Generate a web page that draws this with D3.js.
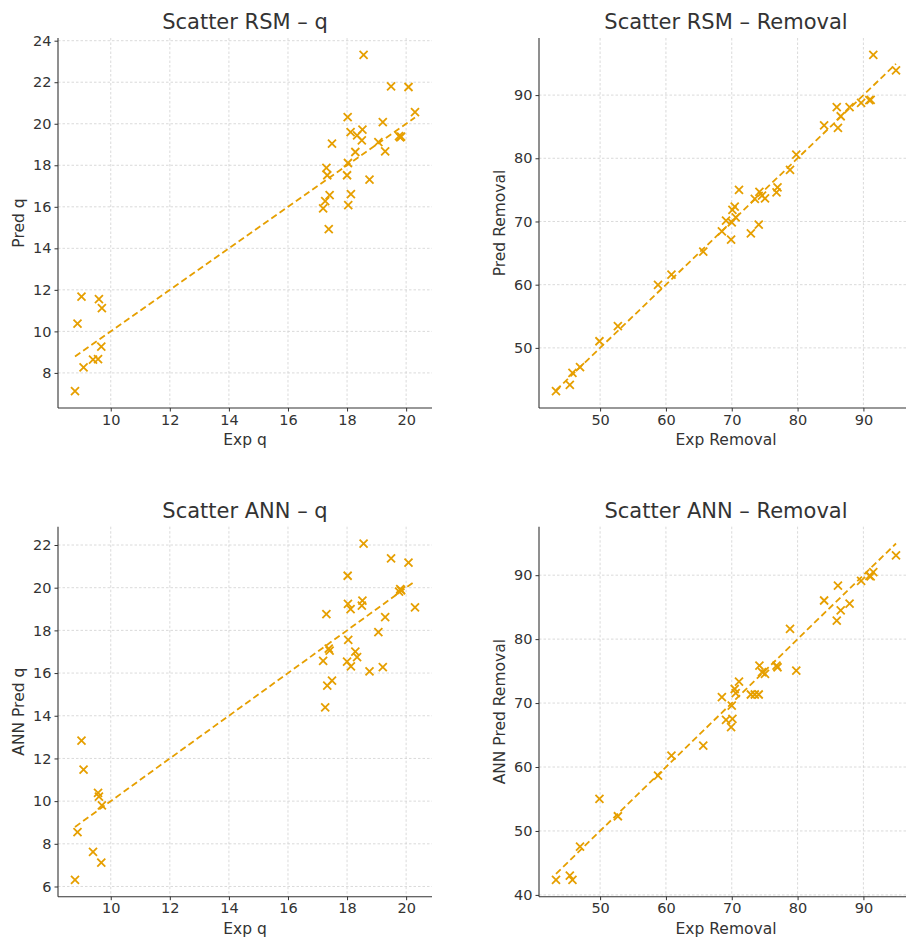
<!DOCTYPE html>
<html>
<head>
<meta charset="utf-8">
<script src="https://cdn.jsdelivr.net/npm/d3@7"></script>
<style>
  body { margin: 0; background: #fff; }
  svg { display: block; font-family: "DejaVu Sans", sans-serif; }
</style>
</head>
<body>
<svg id="chart" width="906" height="937"></svg>
<script>
const expQ = [8.79, 8.875, 9.01, 9.08, 9.40, 9.57, 9.60, 9.70, 9.68,
  17.19, 17.26, 17.30, 17.33, 17.38, 17.41, 17.49,
  18.00, 18.02, 18.03, 18.04, 18.12, 18.13, 18.28, 18.34, 18.50, 18.52, 18.56, 18.76,
  19.06, 19.21, 19.29, 19.49, 19.76, 19.80, 19.83, 20.08, 20.30]
const rsmQ = [7.12, 10.37, 11.67, 8.27, 8.64, 8.66, 11.55, 11.12, 9.27,
  15.92, 16.27, 17.87, 17.52, 14.92, 16.56, 19.04,
  17.52, 20.32, 18.11, 16.08, 19.60, 16.61, 18.64, 19.44, 19.20, 19.72, 23.32, 17.31,
  19.12, 20.08, 18.67, 21.80, 19.40, 19.35, 19.38, 21.77, 20.56]
const annQ = [6.31, 8.55, 12.84, 11.48, 7.62, 10.39, 10.21, 9.80, 7.12,
  16.57, 14.39, 18.76, 15.41, 17.15, 17.05, 15.65,
  16.54, 20.56, 19.24, 17.56, 19.00, 16.31, 17.01, 16.75, 19.16, 19.39, 22.07, 16.08,
  17.92, 16.28, 18.62, 21.37, 19.82, 19.93, 19.88, 21.17, 19.08]

const expRem = [43.3, 45.4, 45.8, 46.95, 49.9, 52.7, 58.8, 60.84, 65.67,
  68.5, 69.13, 69.9, 70.0, 70.1, 70.45, 70.6, 71.1, 72.9, 73.5, 74.1, 74.2, 74.6, 75.05,
  76.8, 76.95, 78.85, 79.8, 84.03, 85.95, 86.13, 86.55, 87.9, 89.65, 90.9, 91.1, 91.5, 94.95]
const rsmRem = [43.15, 44.15, 46.05, 46.94, 51.05, 53.43, 59.96, 61.59, 65.23,
  68.44, 70.13, 67.13, 69.87, 71.82, 72.35, 70.66, 75.0, 68.13, 73.56, 69.5, 74.7, 74.08, 73.65,
  74.6, 75.4, 78.17, 80.57, 85.2, 88.1, 84.8, 86.65, 88.1, 88.75, 89.2, 89.25, 96.37, 93.9]
const annRem = [42.35, 43.02, 42.35, 47.56, 55.02, 52.30, 58.67, 61.79, 63.36,
  70.92, 67.37, 66.23, 69.61, 67.53, 72.2, 71.54, 73.37, 71.34, 71.34, 71.34, 75.87, 74.83, 74.57,
  75.87, 75.6, 81.6, 75.09, 86.04, 82.9, 88.38, 84.5, 85.55, 89.1, 89.9, 89.8, 90.47, 93.08]

const qTicksX = [10, 12, 14, 16, 18, 20]
const rsmQTicksY = [8, 10, 12, 14, 16, 18, 20, 22, 24]
const annQTicksY = [6, 8, 10, 12, 14, 16, 18, 20, 22]
const remTicksX = [50, 60, 70, 80, 90]
const rsmRemTicksY = [50, 60, 70, 80, 90]
const annRemTicksY = [40, 50, 60, 70, 80, 90]

const orange = "#E69F00"
const ink = "#333"

const panels = [
  { title: "Scatter RSM \u2013 q", xl: "Exp q", yl: "Pred q", x: expQ, y: rsmQ, tx: qTicksX, ty: rsmQTicksY, left: 58, top: 38 },
  { title: "Scatter RSM \u2013 Removal", xl: "Exp Removal", yl: "Pred Removal", x: expRem, y: rsmRem, tx: remTicksX, ty: rsmRemTicksY, left: 539, top: 38 },
  { title: "Scatter ANN \u2013 q", xl: "Exp q", yl: "ANN Pred q", x: expQ, y: annQ, tx: qTicksX, ty: annQTicksY, left: 58, top: 526.7 },
  { title: "Scatter ANN \u2013 Removal", xl: "Exp Removal", yl: "ANN Pred Removal", x: expRem, y: annRem, tx: remTicksX, ty: annRemTicksY, left: 539, top: 526.7 }
]
const W = 374, H = 370

const svg = d3.select("#chart")

// matplotlib style 5% padding
function padded(ext) {
  const p = (ext[1] - ext[0]) * 0.05
  return [ext[0] - p, ext[1] + p]
}

panels.forEach(p => {
  const lo = d3.min(p.x), hi = d3.max(p.x)
  const x = d3.scaleLinear().domain(padded([lo, hi])).range([0, W])
  const y = d3.scaleLinear().domain(padded([Math.min(lo, d3.min(p.y)), Math.max(hi, d3.max(p.y))])).range([H, 0])

  const g = svg.append("g").attr("transform", `translate(${p.left},${p.top})`)

  // grid
  g.append("g").selectAll("line").data(p.tx).join("line")
    .attr("x1", d => x(d)).attr("x2", d => x(d)).attr("y1", 0).attr("y2", H)
    .attr("stroke", "#d0d0d0").attr("stroke-width", 0.8).attr("stroke-dasharray", "2.5,2")
  g.append("g").selectAll("line").data(p.ty).join("line")
    .attr("x1", 0).attr("x2", W).attr("y1", d => y(d)).attr("y2", d => y(d))
    .attr("stroke", "#d0d0d0").attr("stroke-width", 0.8).attr("stroke-dasharray", "2.5,2")

  // axes
  const xa = g.append("g").attr("transform", `translate(0,${H})`)
    .call(d3.axisBottom(x).tickValues(p.tx).tickSize(3.5).tickPadding(3).tickFormat(d3.format("d")))
  const ya = g.append("g")
    .call(d3.axisLeft(y).tickValues(p.ty).tickSize(3.5).tickPadding(3).tickFormat(d3.format("d")))
  ;[xa, ya].forEach(a => {
    a.select(".domain").attr("stroke", ink).attr("stroke-width", 1.1)
    a.selectAll(".tick line").attr("stroke", ink)
    a.selectAll(".tick text").attr("fill", ink).attr("font-size", 14.5).attr("font-family", "DejaVu Sans")
  })
  xa.select(".domain").attr("d", `M0,0H${W}`)
  ya.select(".domain").attr("d", `M0,0V${H}`)

  // y = x reference line
  g.append("line")
    .attr("x1", x(lo)).attr("y1", y(lo)).attr("x2", x(hi)).attr("y2", y(hi))
    .attr("stroke", orange).attr("stroke-width", 1.8).attr("stroke-dasharray", "6.5,3.5")

  // markers
  g.append("g").selectAll("path").data(p.x.map((v, i) => [v, p.y[i]])).join("path")
    .attr("transform", d => `translate(${x(d[0])},${y(d[1])})`)
    .attr("d", "M-4,-4L4,4M-4,4L4,-4")
    .attr("stroke", orange).attr("stroke-width", 1.8).attr("fill", "none")

  // texts
  g.append("text").attr("x", W / 2).attr("y", -9).attr("text-anchor", "middle")
    .attr("font-size", 21).attr("fill", ink).text(p.title)
  g.append("text").attr("x", W / 2).attr("y", H + 37).attr("text-anchor", "middle")
    .attr("font-size", 15.5).attr("fill", ink).text(p.xl)
  g.append("text").attr("transform", `translate(-34,${H / 2}) rotate(-90)`).attr("text-anchor", "middle")
    .attr("font-size", 15.5).attr("fill", ink).text(p.yl)
})
</script>
</body>
</html>
